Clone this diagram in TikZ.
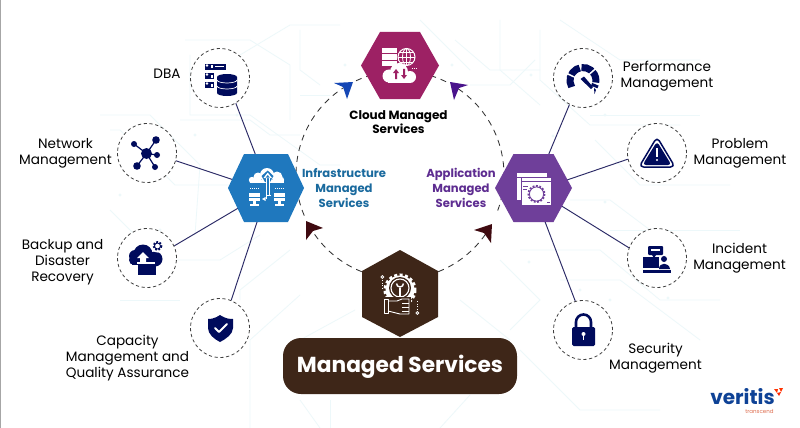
\documentclass[tikz,border=0pt]{standalone}
\usepackage{fontspec}
\usetikzlibrary{calc}
\setmainfont{Poppins}
\definecolor{trace}{HTML}{EDF8FA}
\definecolor{hblue}{HTML}{1F78BE}
\definecolor{hpurple}{HTML}{6F3F9A}
\definecolor{hcloud}{HTML}{9D2164}
\definecolor{hbrown}{HTML}{3E2618}
\definecolor{inav}{HTML}{000B5C}
\definecolor{linkc}{HTML}{2B2A66}
\definecolor{bluetxt}{HTML}{1A6A9E}
\definecolor{purtxt}{HTML}{5E2D91}
\definecolor{arblue}{HTML}{1547B5}
\definecolor{arpur}{HTML}{4A148C}
\definecolor{arred}{HTML}{3F0A10}
\definecolor{logob}{HTML}{0E4296}
\definecolor{logoo}{HTML}{DE6E50}
\tikzset{
  x=1pt,y=-1pt,
  ring/.style={circle,draw=black!75,dashed,dash pattern=on 3.2pt off 2.6pt,line width=.8pt,minimum size=59pt,inner sep=0pt,fill=white},
  link/.style={draw=linkc,line width=.95pt},
  orbit/.style={draw=black!80,line width=.85pt,dash pattern=on 6pt off 5pt},
  lab/.style={align=center,font=\fontsize{13.6}{16.2}\selectfont,text=black,inner sep=0pt},
  hexlab/.style={align=center,font=\fontsize{11.6}{14.7}\selectfont\bfseries,inner sep=0pt},
  tr/.style={draw=trace,line width=.8pt},
}
\newcommand{\hexflat}[7]{% name cx cy hw hh top colour
  \fill[#7] (#2-#4,#3) -- (#2-#6,#3-#5) -- (#2+#6,#3-#5) -- (#2+#4,#3) -- (#2+#6,#3+#5) -- (#2-#6,#3+#5) -- cycle;
  \node[inner sep=0pt,minimum width=2*#4*1pt,minimum height=2*#5*1pt] (#1) at (#2,#3) {};}
\newcommand{\gear}[4]{% cx cy r colour
  \draw[#4,line width=1.8pt,dash pattern=on 1.8pt off 1.6pt] (#1,#2) circle[radius=#3+.6];
  \draw[#4,line width=.9pt] (#1,#2) circle[radius=#3-.4];}
\begin{document}
\begin{tikzpicture}
\useasboundingbox (0,0) rectangle (800,428);
\fill[white] (0,0) rectangle (800,428);
% background traces
\foreach \p in {
 {(190,55)--(190,115)--(250,115)--(320,165)--(340,165)},
 {(100,115)--(150,115)--(200,165)--(195,235)},
 {(110,130)--(120,130)--(175,185)--(290,185)},
 {(110,210)--(160,260)--(220,260)--(260,235)},
 {(120,300)--(180,300)},
 {(185,40)--(250,40)--(290,65)--(290,120)},
 {(240,55)--(290,25)--(340,25)},
 {(300,135)--(270,135)--(250,120)--(180,120)},
 {(320,85)--(300,70)--(300,30)},
 {(300,400)--(320,428)}, {(330,400)--(330,428)}, {(470,395)--(440,428)},
 {(290,250)--(240,290)--(240,300)},
 {(300,295)--(250,340)--(250,428)},
 {(355,310)--(300,340)},
 {(460,300)--(510,340)},
 {(500,260)--(540,300)--(510,330)},
 {(520,350)--(580,410)--(660,410)},
 {(560,280)--(620,280)--(700,340)},
 {(610,230)--(740,230)},
 {(520,250)--(600,250)--(660,300)--(720,300)},
 {(540,30)--(540,80)--(590,125)--(680,125)},
 {(590,115)--(700,115)},
 {(570,200)--(610,200)--(650,230)},
 {(595,140)--(640,185)--(730,185)},
 {(500,20)--(500,70)--(540,105)},
 {(455,40)--(490,70)--(540,70)},
 {(470,85)--(510,85)--(535,60)},
 {(420,20)--(470,70)},
 {(560,20)--(620,60)--(700,60)},
 {(330,95)--(300,95)}}
  {\draw[tr] \p;}
\foreach \q in {(120,195),(160,230),(195,135),(288,161),(237,115),(531,75),(553,136),(605,115),(605,202),(652,230),(610,300),(529,262),(580,290),(345,65),(452,65),(668,298)}
  {\fill[trace] \q circle[radius=1.6];}
% frame
\draw[black!35,line width=1pt] (0,0) rectangle (800,428);
% orbit
\node[inner sep=0pt] (orbc) at (400,175) {};
\coordinate (a1) at ($(orbc)+(111.6:104)$);
\coordinate (a2) at ($(orbc)+(157:104)$);
\coordinate (a3) at ($(orbc)+(245:104)$);
\coordinate (a4) at ($(orbc)+(-63.7:104)$);
\coordinate (a5) at ($(orbc)+(20:104)$);
\coordinate (a6) at ($(orbc)+(68.4:104)$);
\draw[orbit] (a1) arc[start angle=111.6,end angle=147,radius=104];
\draw[orbit] (a2) arc[start angle=157,end angle=237,radius=104];
\draw[orbit] (a3) arc[start angle=245,end angle=258,radius=104];
\draw[orbit] (a4) arc[start angle=-63.7,end angle=-77,radius=104];
\draw[orbit] (a5) arc[start angle=20,end angle=-56,radius=104];
\draw[orbit] (a6) arc[start angle=68.4,end angle=34.6,radius=104];
% arrowheads
\fill[arblue] (353,82) -- (334,83) -- (343,87) -- (347,99) -- cycle;
\fill[arpur] (450,82) -- (468,85) -- (459,88) -- (454,100) -- cycle;
\fill[arred] (306,221) -- (323,228) -- (313,231) -- (306,240) -- cycle;
\fill[arred] (492,224) -- (474,230) -- (484,233) -- (491,243) -- cycle;
% rings
\node[ring] (dba) at (220,78) {};
\node[ring] (net) at (147,153) {};
\node[ring] (bak) at (147,258) {};
\node[ring] (cap) at (220,328) {};
\node[ring] (perf) at (583,78) {};
\node[ring] (prob) at (657,153) {};
\node[ring] (inc) at (657,258) {};
\node[ring] (sec) at (583,330) {};
% connectors
\coordinate (h1) at (256,156); \coordinate (h2) at (234,180); \coordinate (h3) at (240,207); \coordinate (h4) at (258,219);
\coordinate (p1) at (548,156); \coordinate (p2) at (567,180); \coordinate (p3) at (560,205); \coordinate (p4) at (544,219);
\draw[link] (dba.-58) -- (h1);
\draw[link] (net.-15) -- (h2);
\draw[link] (bak.24) -- (h3);
\draw[link] (cap.68) -- (h4);
\draw[link] (perf.-117) -- (p1);
\draw[link] (prob.192) -- (p2);
\draw[link] (inc.160) -- (p3);
\draw[link] (sec.105) -- (p4);
% hexagons
\hexflat{hinf}{266}{188}{38}{34}{22}{hblue}
\hexflat{happ}{533.5}{188}{38.5}{34}{20}{hpurple}
\hexflat{hcl}{400}{65.5}{39}{33.5}{20}{hcloud}
\fill[hbrown] (400,250) -- (438,271) -- (438,317) -- (400,337) -- (362,317) -- (362,271) -- cycle;
\node[inner sep=0pt,minimum width=76pt,minimum height=87pt] (hms) at (400,293.5) {};
% pill
\node[fill=hbrown,rounded corners=18pt,minimum width=234pt,minimum height=56pt,inner sep=0pt] (pill) at (400,366) {};
\node[inner sep=0pt,text=white,font=\fontsize{21.7}{26}\selectfont\bfseries] (pilltxt) at (400,367) {Managed Services};
% labels
\node[lab] (tdba) at (167,74) {DBA};
\node[lab] (tnet) at (65.5,153) {Network\\Management};
\node[lab] (tbak) at (62.5,262.5) {Backup and\\Disaster\\Recovery};
\node[lab] (tcap) at (127.5,358) {Capacity\\Management and\\Quality Assurance};
\node[lab] (tperf) at (667,76.5) {Performance\\Management};
\node[lab] (tprob) at (740,153) {Problem\\Management};
\node[lab] (tinc) at (739.5,258.5) {Incident\\Management};
\node[lab] (tsec) at (655.5,358) {Security\\Management};
\node[hexlab,text=black,font=\fontsize{12}{14.5}\selectfont\bfseries] (tcl) at (398.5,122) {Cloud Managed\\Services};
\node[hexlab,text=bluetxt] (tinf) at (344,188) {Infrastructure\\Managed\\Services};
\node[hexlab,text=purtxt] (tapp) at (461,188) {Application\\Managed\\Services};
% ---- icons
% DBA
\foreach \y in {64,73,82}{\fill[inav] (205,\y) rectangle (226,\y+6);\fill[white] (207,\y+1.5) circle[radius=1.4];\fill[white] (211,\y+1.5) rectangle (213,\y+4.5);\fill[white] (215,\y+2.5) rectangle (224,\y+3.5);}
\fill[white] (214,73) rectangle (240,97);
\fill[inav] (217,77) -- (217,93) arc[start angle=180,end angle=0,x radius=10,y radius=3] -- (237,77) arc[start angle=0,end angle=-180,x radius=10,y radius=3] -- cycle;
\draw[white,line width=.7pt] (217,80) arc[start angle=180,end angle=0,x radius=10,y radius=3];
\draw[white,line width=.7pt] (217,86) arc[start angle=180,end angle=0,x radius=10,y radius=3];
% network
\foreach \a/\b/\r in {134/144/3,156/140/3.8,157/155/3,137/166/3.8,155/167/3}{\draw[inav,line width=1.2pt] (146.5,153.5)--(\a,\b);\fill[inav] (\a,\b) circle[radius=\r];}
\fill[inav] (146.5,153.5) circle[radius=5.5];
% backup
\fill[inav] (134,260) circle[radius=5];
\fill[inav] (143,254) circle[radius=9.5];
\fill[inav] (155,259) circle[radius=7.5];
\fill[inav] (135,256) circle[radius=6];
\fill[inav] (132,256) rectangle (158,265);
\fill[white] (137,262) rectangle (155,264);
\fill[inav] (138,264) rectangle (156,275);
\fill[white] (143,252) -- (149,258) -- (146,258) -- (146,262) -- (140,262) -- (140,258) -- (137,258) -- cycle;
\fill[white] (157.5,246) circle[radius=6.5];
\gear{157.5}{246}{3.4}{inav}
% shield
\fill[inav] (220,315) .. controls (214,319) and (210,319) .. (208,319) -- (208,328) .. controls (208,334) and (214,339) .. (220,342) .. controls (226,339) and (233,334) .. (233,328) -- (233,319) .. controls (230,319) and (226,319) .. (220,315) -- cycle;
\draw[white,line width=2pt,line cap=round,line join=round] (215,328) -- (219,332) -- (227,324);
% performance gauge
\draw[inav,line width=7pt,dash pattern=on 11pt off 1.8pt] (571.7,87) arc[start angle=150,end angle=390,radius=13];
\fill[inav] (580.5,79) -- (584,76.5) -- (593,87) -- (591,89) -- cycle;
\fill[inav] (594,88) -- (596,90) -- (594.5,94) -- cycle;
% problem triangle
\draw[inav,line width=1.5pt,line join=round,rounded corners=4.5pt] (657,137) -- (675,167) -- (639,167) -- cycle;
\fill[inav,rounded corners=3.5pt] (657,141.5) -- (671.5,165) -- (642.5,165) -- cycle;
\fill[white] (656.2,148) rectangle (657.8,157);
\fill[white] (657,160) circle[radius=1.1];
% incident
\fill[inav,rounded corners=1pt] (648,246) rectangle (663,255);
\fill[white] (651,249) rectangle (660,251);
\fill[inav] (652,255) -- (656,255) -- (654,258) -- cycle;
\fill[inav] (643,257) rectangle (658.5,268);
\fill[inav] (664,259) circle[radius=3];
\fill[inav] (659,269) .. controls (659,262) and (669,262) .. (670,269) -- cycle;
\fill[inav] (643,270) rectangle (671,273);
% lock
\draw[inav,line width=2.6pt] (576,328) -- (576,322) arc[start angle=180,end angle=360,radius=7.5] -- (591,328);
\fill[inav,rounded corners=1.5pt] (572,327) rectangle (595,346);
\fill[white] (583.5,334) circle[radius=2]; \fill[white] (582.8,334) rectangle (584.2,340);
% infra icon
\fill[white] (258,177) circle[radius=4.5]; \fill[white] (267,175) circle[radius=7]; \fill[white] (277,177) circle[radius=5.5];
\fill[white] (252,180) circle[radius=3.2]; \fill[white] (281,180) circle[radius=3.2];
\fill[white] (250,180) rectangle (284,183.2);
\draw[hblue,line width=2.6pt] (267.7,176) -- (267.7,192);
\fill[hblue] (261.5,176) -- (267.7,170.5) -- (273.5,176) -- (270,182) -- (265,182) -- cycle;
\draw[white,line width=.8pt] (266,199) -- (266,177); \draw[white,line width=.8pt] (269.5,195) -- (269.5,177);
\fill[white] (267.7,172.5) -- (272,178) -- (263.5,178) -- cycle;
\fill[hblue] (267.7,175) -- (269.7,177.5) -- (265.7,177.5) -- cycle;
\draw[white,line width=.8pt] (271,195) -- (266,195); \fill[white] (262,199) -- (265.5,197) -- (265.5,201) -- cycle;
\foreach \x in {249,273.5}{\fill[white] (\x,193) rectangle (\x+11,200.5); \draw[hblue,line width=.5pt] (\x,197)--(\x+11,197); \fill[white] (\x+4,200.5) rectangle (\x+7,204); \fill[white] (\x+1,204) rectangle (\x+10,206);
 \draw[white,line width=.8pt,dash pattern=on 1pt off 1pt] (\x+1,188.5) -- (\x+10,188.5);}
% app icon
\fill[white] (517,173) rectangle (547,200);
\draw[hpurple,line width=.7pt] (517,177) -- (547,177);
\fill[white] (521,177) rectangle (551,205);
\draw[hpurple,line width=.8pt] (521,177) rectangle (551,205);
\draw[hpurple,line width=.7pt] (521,181) -- (551,181);
\draw[hpurple,line width=.7pt] (523,186) -- (528,186) (523,189) -- (527,189);
\draw[hpurple,line width=.8pt] (547,202) -- (550,202);
\gear{536.5}{194}{7.5}{hpurple}
% cloud icon
\foreach \y in {48,54.5,61}{\fill[white] (382,\y) rectangle (397,\y+5.3);}
\draw[white,line width=1pt] (406.5,57) circle[radius=8.5];
\draw[white,line width=.8pt] (406.5,57) ellipse[x radius=4,y radius=8.5];
\draw[white,line width=.8pt] (398,57)--(415,57) (400,52)--(413,52) (400,62)--(413,62) (406.5,48.5)--(406.5,65.5);
\draw[white,line width=.8pt,dash pattern=on 1pt off 1pt] (412,68)--(418,68);
\fill[white] (389,76) circle[radius=6.5]; \fill[white] (399,72) circle[radius=9]; \fill[white] (410,77) circle[radius=6];
\fill[white] (388,77) rectangle (411,83);
\fill[hcloud] (396,69)--(399,73)--(397,73)--(397,79)--(395,79)--(395,73)--(393,73)--cycle;
\fill[hcloud] (404,79)--(401,75)--(403,75)--(403,69)--(405,69)--(405,75)--(407,75)--cycle;
% managed services icon
\draw[white,line width=3pt,dash pattern=on 3pt off 2.4pt] (400,290) circle[radius=15];
\fill[white] (400,290) circle[radius=14.5];
\fill[hbrown] (400,288) circle[radius=11];
\draw[white,line width=1.1pt] (400,288) circle[radius=9];
\draw[white,line width=1.4pt] (396.5,283.5) arc[start angle=180,end angle=0,radius=3.5];
\draw[white,line width=2pt] (400,288) -- (400,297);
\fill[hbrown] (383,297) rectangle (411,317);
\draw[white,line width=.9pt,line join=round] (384,299.5) rectangle (388,313);
\draw[white,line width=.9pt,line join=round] (388,301) -- (397,301) -- (402,299) -- (409,299) -- (409,314) -- (400,314) -- (388,311);
\draw[white,line width=.8pt] (402,303) -- (409,303) (402,307) -- (409,307) (402,311) -- (409,311);
\draw[white,line width=.8pt] (382.3,277) circle[radius=1.4];
\draw[white,line width=.8pt,dash pattern=on 1pt off 1.5pt] (382.3,280) -- (382.3,288);
\draw[white,line width=.8pt] (417.3,313) circle[radius=1.4];
\draw[white,line width=.8pt,dash pattern=on 1pt off 1.5pt] (417.3,301) -- (417.3,310);
% logo
\node[inner sep=0pt,text=logob,font=\fontsize{20}{22}\selectfont\bfseries] (logo) at (742.5,397) {veritis};
\node[inner sep=0pt,text=logoo,font=\fontsize{5.5}{7}\selectfont] (logosub) at (759.5,411) {transcend};
\fill[red!60!orange] (774,389) -- (778,389) -- (777,393) -- cycle (779,388) -- (783,388) -- (781,392) -- cycle;
\fill[red!70!orange] (777,393) -- (781,392) -- (779,396) -- cycle;
\end{tikzpicture}
\end{document}
